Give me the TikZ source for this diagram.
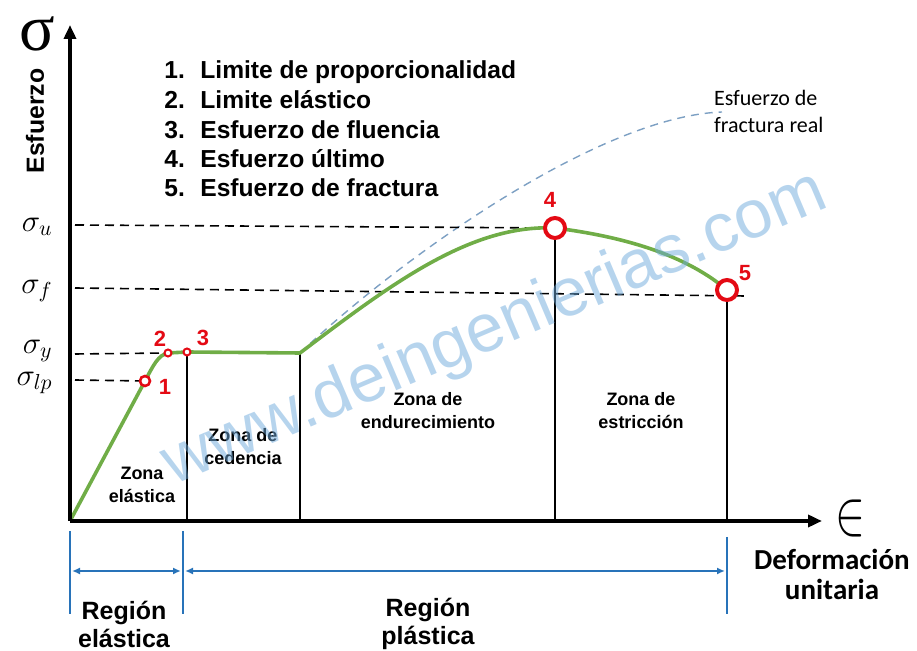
\RequirePackage{fix-cm}
\documentclass[tikz,border=0pt]{standalone}
\usepackage{graphicx}
\usepackage{fontspec}
\setmainfont{Liberation Sans}
\newfontfamily\calfont{Carlito}
\newfontfamily\timesfont{Liberation Serif}
\usetikzlibrary{arrows.meta}

\definecolor{curvegreen}{RGB}{112,173,71}
\definecolor{hitred}{RGB}{228,10,20}
\definecolor{regblue}{RGB}{40,115,185}
\definecolor{realblue}{RGB}{125,160,195}
\definecolor{wmblue}{RGB}{110,170,220}

\tikzstyle{axis}=[line width=2pt,-{Triangle[length=7pt,width=6pt]}]
\tikzstyle{hit}=[circle,draw=hitred,fill=white,inner sep=0pt]
\tikzstyle{num}=[text=hitred,font=\bfseries\fontsize{11}{13}\selectfont]
\tikzstyle{zone}=[align=center,font=\bfseries\fontsize{9}{11.5}\selectfont]
\tikzstyle{region}=[align=center,font=\bfseries\fontsize{12.5}{14}\selectfont]
\tikzstyle{sig}=[anchor=mid east,inner sep=0pt,font=\fontsize{15.5}{15.5}\selectfont]
\tikzstyle{sigline}=[line width=0.8pt,dash pattern=on 4.5pt off 3pt]
\tikzstyle{zoneline}=[line width=0.8pt]
\tikzstyle{regline}=[regblue,line width=1pt]
\tikzstyle{listitem}=[anchor=base west,inner sep=0pt,font=\bfseries\fontsize{12.3}{14}\selectfont]

\begin{document}
\begin{tikzpicture}[x=0.5pt,y=-0.5pt]
  \useasboundingbox (0,0) rectangle (917,651);

  \coordinate (O)    at (70,521);
  \coordinate (ytop) at (70,25);
  \coordinate (xend) at (822,521);
  \coordinate (c1)   at (145,381);
  \coordinate (c2)   at (168,353);
  \coordinate (c3)   at (187,352);
  \coordinate (k)    at (300,353);
  \coordinate (c4)   at (555,228);
  \coordinate (c5)   at (727,290);
  \coordinate (rend) at (722,112);

  % curva de esfuerzo real
  \draw[realblue,line width=0.7pt,dash pattern=on 4pt off 3pt]
    (k) .. controls (400,258) and (600,116) .. (rend);

  \foreach \name/\y/\txt in {su/226/u, sf/288/f, sy/348/y, slp/380/lp}
    \node[sig] (\name) at (53,\y) {$\sigma_{\txt}$};

  \coordinate (du)  at (75,225);
  \coordinate (df)  at (75,288);
  \coordinate (dfe) at (745,296);
  \coordinate (dy)  at (75,354);
  \coordinate (dlp) at (75,380);
  \draw[sigline] (du) -- (c4);
  \draw[sigline] (df) -- (dfe);
  \draw[sigline] (dy) -- (c2);
  \draw[sigline] (dlp) -- (c1);

  \foreach \c in {c3,k,c4,c5}
    \draw[zoneline] (\c) -- (\c |- O);

  \draw[curvegreen,line width=1.8pt,line join=round] (O) -- (c1)
    .. controls (153,366) and (158,355) .. (c2) -- (c3) -- (k)
    .. controls (390,285) and (470,224) .. (c4)
    .. controls (610,235) and (680,250) .. (c5);

  \draw[axis] (O) -- (ytop);
  \draw[axis] (O) -- (xend);

  \node[hit,line width=1.3pt,minimum size=5pt]   (p1) at (c1) {};
  \node[hit,line width=1pt,minimum size=3.5pt]   (p2) at (c2) {};
  \node[hit,line width=1pt,minimum size=3.5pt]   (p3) at (c3) {};
  \node[hit,line width=2pt,minimum size=10pt]    (p4) at (c4) {};
  \node[hit,line width=2pt,minimum size=10pt]    (p5) at (c5) {};

  \foreach \k/\x/\y in {1/165/387, 2/160/339, 3/203/338, 4/550/200, 5/745/273}
    \node[num] (n\k) at (\x,\y) {\k};

  \foreach \k/\y/\txt in {1/79/Limite de proporcionalidad, 2/109/Limite elástico,
            3/139/Esfuerzo de fluencia, 4/168/Esfuerzo último, 5/197/Esfuerzo de fractura}
  {
    \node[listitem] (i\k) at (164,\y) {\k.};
    \node[listitem] (t\k) at (200,\y) {\txt};
  }

  \node[zone] (zel) at (142,485) {Zona\\elástica};
  \node[zone] (zce) at (243,447) {Zona de\\cedencia};
  \node[zone] (zen) at (428,411) {Zona de\\endurecimiento};
  \node[zone] (zes) at (641,411) {Zona de\\estricción};

  \node[font=\timesfont\fontsize{33}{33}\selectfont] (sigma) at (37,34) {σ};
  \node[rotate=90,font=\bfseries\fontsize{12.4}{14}\selectfont] (ylab) at (35,121) {Esfuerzo};
  \node (eps) at (850,519) {\fontsize{32}{32}\selectfont\scalebox{0.7}[1]{$\in$}};
  \node[align=center,font=\calfont\bfseries\fontsize{14.5}{15}\selectfont] (deflab) at (832,574) {Deformación\\unitaria};
  \node[anchor=west,align=left,font=\calfont\fontsize{11}{13.5}\selectfont] (real) at (707,111) {Esfuerzo de\\fractura real};

  % regiones
  \coordinate (b0) at (70,531);  \coordinate (b0e) at (70,614);
  \coordinate (b1) at (183,531); \coordinate (b1e) at (183,614);
  \coordinate (b2) at (727,537); \coordinate (b2e) at (727,614);
  \coordinate (a0) at (72,571);  \coordinate (a1) at (181,571);
  \coordinate (a2) at (185,571); \coordinate (a3) at (725,571);
  \draw[regline] (b0) -- (b0e);
  \draw[regline] (b1) -- (b1e);
  \draw[regline] (b2) -- (b2e);
  \draw[regline,{Latex[length=4pt,width=3.5pt]}-{Latex[length=4pt,width=3.5pt]}] (a0) -- (a1);
  \draw[regline,{Latex[length=4pt,width=3.5pt]}-{Latex[length=4pt,width=3.5pt]}] (a2) -- (a3);
  \node[region] (rel) at (124,624) {Región\\elástica};
  \node[region] (rpl) at (428,624) {Región\\plástica};

  \node[rotate=23,text=wmblue,opacity=0.5,font=\fontsize{34}{34}\selectfont] (wm) at (495,330) {www.deingenierias.com};
\end{tikzpicture}
\end{document}
